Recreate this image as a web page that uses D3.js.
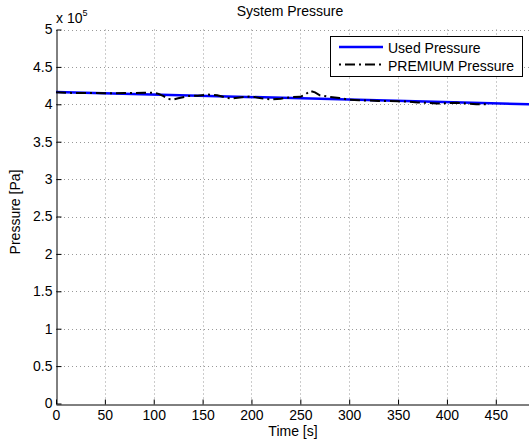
<!DOCTYPE html>
<html>
<head>
<meta charset="utf-8">
<script src="https://cdn.jsdelivr.net/npm/d3@7"></script>
<style>
  body { margin: 0; background: #fff; }
  svg { font-family: "Liberation Sans", Arial, sans-serif; }
  .axis path, .axis line { stroke: #000; }
  .axis text { font-size: 14px; fill: #000; }
</style>
</head>
<body>
<script>
// time [s] and pressure [Pa]
var usedTime = [0, 485];
var usedPressure = [416500, 400000];
var premiumTime = [0, 10, 20, 30, 40, 50, 60, 70, 80, 90, 100, 105, 110, 115, 120, 125, 135, 145, 155, 165, 175, 180, 190, 200, 210, 220, 230, 240, 250, 255, 260, 265, 270, 280, 290, 300, 310, 320, 330, 340, 350, 360, 370, 380, 390, 400, 410, 420, 430, 440];
var premiumPressure = [416000, 415500, 415000, 415200, 415000, 414800, 414600, 415000, 415200, 415500, 415500, 414000, 411000, 407000, 406500, 408000, 411000, 411500, 413000, 412000, 408500, 407800, 409500, 410500, 408000, 406500, 407500, 409500, 410000, 413000, 418000, 416000, 412000, 410000, 408500, 406000, 405500, 405000, 404500, 404500, 404000, 403500, 402500, 402000, 401000, 401500, 402000, 401000, 400000, 400000];
var xTicks = [0, 50, 100, 150, 200, 250, 300, 350, 400, 450];
var yTicks = [0, 0.5, 1, 1.5, 2, 2.5, 3, 3.5, 4, 4.5, 5];

var svg = d3.select('body').append('svg').attr('width', 529).attr('height', 446);

var x = d3.scaleLinear().domain([0, 485]).range([56, 530]);
var y = d3.scaleLinear().domain([0, 5]).range([403.5, 29.5]);

// grid
var grid = svg.append('g').attr('stroke', '#999').attr('stroke-width', 1).attr('stroke-dasharray', '1,3');
grid.selectAll('.gx').data(xTicks.slice(1)).enter().append('line')
  .attr('x1', d => Math.round(x(d)) + 0.5).attr('x2', d => Math.round(x(d)) + 0.5)
  .attr('y1', y(5)).attr('y2', y(0));
grid.selectAll('.gy').data(yTicks.slice(1)).enter().append('line')
  .attr('y1', d => Math.round(y(d)) + 0.5).attr('y2', d => Math.round(y(d)) + 0.5)
  .attr('x1', x(0)).attr('x2', 529);

// axes
var xAxis = d3.axisBottom(x).tickValues(xTicks).tickSizeInner(-5).tickSizeOuter(0).tickPadding(6);
svg.append('g').attr('class', 'axis').attr('transform', 'translate(0,' + (Math.round(y(0)) + 0.5) + ')').call(xAxis);
var yAxis = d3.axisLeft(y).tickValues(yTicks).tickSizeInner(-5).tickSizeOuter(0).tickPadding(4).tickFormat(d3.format('~g'));
svg.append('g').attr('class', 'axis').attr('transform', 'translate(' + (Math.round(x(0)) + 0.5) + ',0)').call(yAxis);

// lines
var line = d3.line().x(d => x(d[0])).y(d => y(d[1] / 1e5));
svg.append('path').datum(d3.zip(usedTime, usedPressure))
  .attr('d', line).attr('fill', 'none').attr('stroke', '#0000ff').attr('stroke-width', 2.5);
svg.append('path').datum(d3.zip(premiumTime, premiumPressure))
  .attr('d', line).attr('fill', 'none').attr('stroke', '#000').attr('stroke-width', 2)
  .attr('stroke-dasharray', '10,4,2,4');

// texts
svg.append('text').attr('x', 290).attr('y', 16).attr('text-anchor', 'middle').attr('font-size', 14).text('System Pressure');
svg.append('text').attr('x', 293).attr('y', 436).attr('text-anchor', 'middle').attr('font-size', 14).text('Time [s]');
svg.append('text').attr('transform', 'translate(20,212) rotate(-90)').attr('text-anchor', 'middle').attr('font-size', 14).text('Pressure [Pa]');
var exp = svg.append('text').attr('x', 56).attr('y', 23).attr('font-size', 14).text('x 10');
exp.append('tspan').attr('dy', -7).attr('font-size', 9).text('5');

// legend
var lg = svg.append('g');
lg.append('rect').attr('x', 330.5).attr('y', 36.5).attr('width', 192).attr('height', 40)
  .attr('fill', '#fff').attr('stroke', '#000');
var legendItems = [
  {name: 'Used Pressure', color: '#0000ff', dash: null, w: 2.5},
  {name: 'PREMIUM Pressure', color: '#000', dash: '2,4,10,4', w: 2}
];
lg.selectAll('.li').data(legendItems).enter().append('line')
  .attr('x1', 339).attr('x2', 383)
  .attr('y1', (d, i) => 47 + i * 17.5).attr('y2', (d, i) => 47 + i * 17.5)
  .attr('stroke', d => d.color).attr('stroke-width', d => d.w).attr('stroke-dasharray', d => d.dash);
lg.selectAll('.lt').data(legendItems).enter().append('text')
  .attr('x', 388).attr('y', (d, i) => 52.5 + i * 18).attr('font-size', 14).text(d => d.name);
</script>
</body>
</html>
